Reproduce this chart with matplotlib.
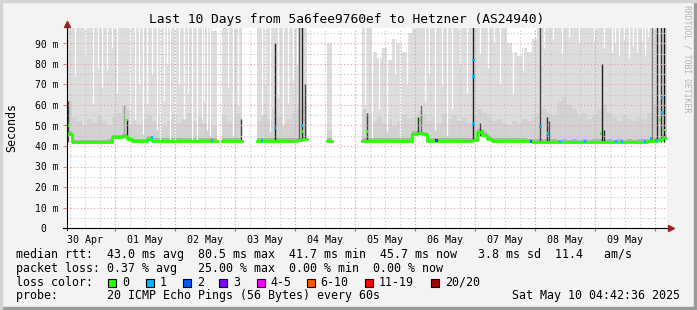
import numpy as np
import matplotlib
matplotlib.use("Agg")
import matplotlib.pyplot as plt
from matplotlib.lines import Line2D
from matplotlib.patches import Rectangle
from datetime import datetime

W, H = 697, 310
nan = np.nan
MONO = "DejaVu Sans Mono"

# ---- data (2 hour bins starting 30 Apr 04:42:36) ----
start = datetime(2025, 4, 30, 4, 42, 36)
bin_hours = 2

# upper edge of the light smoke (ms), nan = no data
top_ms = [
    98, 98, 98, 98, 98, 98, 98, 98, 98, 98, 98, 98,
    98, 98, 98, 98, 98, 98, 98, 98, 98, 98, 98, 98,
    98, 98, 98, 98, 98, 96, nan, 98, 98, 98, 98, nan,
    nan, nan, 98, 98, 98, 98, 98, 98, 98, 98, 98, 98,
    nan, nan, nan, nan, 90, nan, nan, nan, nan, nan, nan, 98,
    98, 86, 83, 88, 82, 92, 90, 86, 95, 98, 98, 98,
    98, 98, 98, 98, 98, 98, 98, 98, 98, 98, 98, 98,
    98, 98, 98, 98, 90, 86, 84, 88, 86, 92, 98, 98,
    98, 98, 98, 98, 98, 98, 98, 98, 98, 98, 98, 98,
    98, 98, 98, 98, 98, 98, 98, 98, 98, 98, 98, 98,
]

# upper edge of the darker inner smoke (ms)
mid_ms = [
    62, 54, 52, 50, 53, 51, 55, 52, 50, 54, 56, 60,
    58, 52, 50, 53, 55, 52, 54, 50, 52, 55, 51, 53,
    56, 52, 54, 51, 53, 50, nan, 55, 52, 54, 56, nan,
    nan, nan, 52, 55, 53, 58, 54, 51, 53, 56, 58, 62,
    nan, nan, nan, nan, 48, nan, nan, nan, nan, nan, nan, 58,
    56, 52, 54, 51, 53, 50, 52, 55, 53, 54, 57, 55,
    52, 54, 51, 56, 53, 55, 52, 54, 51, 55, 58, 56,
    54, 52, 53, 51, 50, 52, 51, 53, 52, 54, 56, 58,
    56, 55, 62, 64, 60, 58, 54, 56, 53, 55, 58, 60,
    56, 54, 52, 55, 53, 52, 54, 53, 56, 60, 62, 65,
]

median_ms = [
    46.0, 41.8, 41.8, 41.8, 41.8, 41.8, 41.8, 41.8, 42.0, 44.2, 44.2, 44.8,
    43.2, 42.3, 42.3, 42.3, 43.6, 42.5, 42.5, 42.5, 42.5, 42.6, 42.5, 42.5,
    42.5, 42.5, 42.6, 42.5, 42.5, 42.6, nan, 42.6, 42.5, 42.5, 42.6, nan,
    nan, nan, 42.6, 42.5, 42.5, 42.6, 42.5, 42.5, 42.6, 42.5, 42.8, 43.2,
    nan, nan, nan, nan, 42.5, nan, nan, nan, nan, nan, nan, 42.6,
    42.6, 42.5, 42.5, 42.6, 42.5, 42.5, 42.6, 42.5, 42.6, 46.0, 46.3, 45.8,
    42.6, 42.5, 42.6, 42.5, 42.6, 42.5, 42.6, 42.6, 42.5, 42.8, 47.0, 45.5,
    43.6, 42.6, 42.6, 42.5, 42.6, 42.5, 42.6, 42.5, 42.4, 42.1, 42.1, 42.0,
    42.0, 42.1, 41.9, 42.0, 41.9, 42.0, 41.9, 42.0, 41.9, 42.0, 42.0, 41.9,
    42.0, 41.9, 42.0, 41.9, 42.0, 41.9, 42.0, 42.1, 42.2, 42.6, 42.8, 44.0,
]

# thin white gaps in the smoke: hour, lowest value (ms)
gap_hours = [3.3, 7.3, 10.7, 12.5, 14.0, 16.0, 18.3, 20.0,
             25.3, 27.3, 29.0, 30.6, 32.3, 34.0, 36.0, 37.3, 38.9, 40.0, 41.3,
             43.3, 45.0, 46.9, 48.5, 50.0, 52.0, 54.0, 55.0, 56.0, 57.4,
             64.7, 66.6, 68.6,
             78.0, 79.3, 81.3, 84.7, 86.6, 88.6, 90.6, 92.0,
             119.5, 122.0, 125.0, 128.0, 131.5, 133.5, 136.0,
             143.5, 145.0, 147.5, 150.0, 152.0, 154.0, 157.5, 160.0,
             165.5, 168.5, 171.0, 173.5, 178.5, 182.5,
             190.8, 194.5, 198.0, 201.0, 205.0, 211.0, 215.0,
             218.0, 219.5, 221.0, 223.0, 225.0, 226.5, 228.0, 230.0, 231.5, 232.5]
gap_floor = [74, 84, 61, 78, 69, 77, 88, 66,
             50, 53, 70, 46, 61, 75, 48, 43, 62, 80, 43,
             43, 70, 53, 66, 43, 43, 53, 62, 48, 45,
             69, 45, 60,
             55, 70, 47, 64, 50, 61, 72, 80,
             60, 44, 58, 47, 75, 44, 70,
             62, 75, 48, 70, 45, 58, 80, 66,
             85, 78, 90, 70, 66, 77,
             88, 92, 85, 93, 90, 91, 88,
             86, 90, 84, 92, 83, 89, 86, 91, 84, 93]

# dark smoke spikes: hour, low, high, grey
spike_hours = [0.4, 23.0, 24.0, 69.8, 83.2, 93.0, 94.3, 95.5, 120.2, 140.5, 141.7,
               162.7, 165.5, 189.5, 192.0, 193.0, 214.0, 214.8, 234.0, 236.3, 237.8, 239.0]
spike_low = [42, 44, 44, 43, 43, 43, 43, 44, 43, 46, 46,
             43, 45, 42, 42, 42, 42, 42, 42, 42, 42, 42]
spike_high = [62, 60, 53, 53, 90.4, 98, 98, 70, 56, 54, 60,
              98, 51, 98, 54, 52, 80, 48, 98, 98, 98, 98]
spike_grey = ["#505050", "#a0a0a0", "#202020", "#404040", "#202020", "#606060", "#202020",
              "#404040", "#404040", "#303030", "#707070", "#202020", "#404040", "#404040",
              "#303030", "#505050", "#202020", "#303030", "#808080", "#202020", "#303030", "#101010"]

# loss coloured points on the median
loss_hours = [0.5, 0.6, 24.1, 34.1, 58.1, 78.1, 83.3, 94.1, 94.1, 120.1, 141.3, 148.0,
              162.7, 162.7, 162.7, 166.5, 185.7, 189.5, 192.5, 197.3, 207.3, 213.7,
              219.7, 222.1, 231.3, 233.7, 235.7, 238.1, 238.3, 237.3, 238.9]
loss_ms = [50, 46, 52.7, 44.0, 42.6, 42.6, 48.8, 50.0, 47.0, 47.0, 52.7, 42.6,
           82.0, 73.8, 51.0, 47.0, 42.1, 49.4, 46.0, 42.1, 42.1, 46.0,
           42.1, 42.1, 42.3, 43.5, 42.8, 63.4, 56.5, 52.7, 47.8]
loss_color = ["#26ff00", "#26ff00", "#26ff00", "#00b8ff", "#00b8ff", "#00b8ff", "#00b8ff",
              "#00b8ff", "#26ff00", "#26ff00", "#26ff00", "#7e00ff",
              "#00b8ff", "#00b8ff", "#00b8ff", "#26ff00", "#0059ff", "#00b8ff", "#00b8ff",
              "#00b8ff", "#00b8ff", "#26ff00", "#00b8ff", "#00b8ff", "#00b8ff", "#00b8ff",
              "#00b8ff", "#00b8ff", "#00b8ff", "#26ff00", "#26ff00"]

day_labels = ["30 Apr", "01 May", "02 May", "03 May", "04 May",
              "05 May", "06 May", "07 May", "08 May", "09 May"]

legend_names = ["0", "1", "2", "3", "4-5", "6-10", "11-19", "20/20"]
legend_colors = ["#26ff00", "#00b8ff", "#0059ff", "#7e00ff", "#ff00ff",
                 "#ff5500", "#ff0000", "#a10000"]
legend_box_x = [108.3, 145.7, 182.7, 219.3, 256.7, 306.7, 365.0, 430.7]

# ---- figure ----
fig = plt.figure(figsize=(W / 100, H / 100), dpi=100, facecolor="#f3f3f3")


def fx(x):
    return x / W


def fy(y):
    return 1 - y / H


ax = fig.add_axes([fx(66.7), fy(228), 600 / W, 200 / H])
ax.set_facecolor("white")
ax.set_xlim(0, 240)
ax.set_ylim(0, 200 / 2.05)
for s in ax.spines.values():
    s.set_visible(False)

hours = np.arange(len(top_ms)) * bin_hours
top = np.array(top_ms)
mid = np.array(mid_ms)
med = np.array(median_ms)
ok = ~np.isnan(top)

ax.bar(hours[ok], top[ok] - med[ok], bottom=med[ok], width=bin_hours, align="edge",
       color="#dddddd", linewidth=0, zorder=1)
ax.bar(hours[ok], mid[ok] - med[ok], bottom=med[ok], width=bin_hours, align="edge",
       color="#d2d2d2", linewidth=0, zorder=1.1)
ax.bar(hours[ok], 1.2, bottom=med[ok], width=bin_hours, align="edge",
       color="#b0b0b0", linewidth=0, zorder=1.15)

# white gaps in the smoke
ax.vlines(gap_hours, gap_floor, 98, color="white", linewidth=0.9, zorder=1.2)

# dark spikes
ax.vlines(spike_hours, spike_low, spike_high, colors=spike_grey, linewidth=1.0, zorder=1.3)

# grid
first_midnight = (datetime(2025, 5, 1) - start).total_seconds() / 3600
midnights = first_midnight + 24 * np.arange(10)
six_hours = (first_midnight - 18) + 6 * np.arange(40)
six_hours = six_hours[(six_hours > 0) & (six_hours < 240)]
noons = first_midnight - 12 + 24 * np.arange(10)

for h in six_hours:
    ax.axvline(h, color="#c4c4c4", linewidth=0.8, linestyle=(0, (1, 2)), zorder=2)
for v in range(5, 100, 10):
    ax.axhline(v, color="#c4c4c4", linewidth=0.8, linestyle=(0, (1, 2)), zorder=2)
for h in midnights:
    ax.axvline(h, color="#f0a0a0", linewidth=0.8, linestyle=(0, (1, 2)), zorder=2.1)
for v in range(10, 100, 10):
    ax.axhline(v, color="#f0a0a0", linewidth=0.8, linestyle=(0, (1, 2)), zorder=2.1)

# median line
edges = np.append(hours, 240)
ax.step(edges, np.append(med, med[-1]), where="post", color="#26ff00", linewidth=2.0, zorder=3)
ax.scatter(loss_hours, loss_ms, c=loss_color, marker="s", s=4, linewidths=0, zorder=3.5)

# ticks
ax.set_yticks(range(0, 100, 10))
ax.set_yticklabels(["0  "] + ["%d m" % v for v in range(10, 100, 10)], fontfamily=MONO, fontsize=7)
ax.tick_params(axis="y", length=3, width=0.8, color="#e08080", pad=3)
ax.set_xticks(noons)
ax.set_xticklabels(day_labels, fontfamily=MONO, fontsize=7.2)
ax.tick_params(axis="x", length=0, pad=5)
ax.vlines(midnights, -1.3, 0, color="#e05050", linewidth=0.8, clip_on=False)

# axis lines and arrows
fig.add_artist(Line2D([fx(66.7), fx(66.7)], [fy(230), fy(25)], color="black", linewidth=0.8))
fig.add_artist(Line2D([fx(63), fx(670)], [fy(228), fy(228)], color="black", linewidth=0.8))
fig.add_artist(Line2D([fx(66.7)], [fy(24)], marker="^", markersize=4, color="#a02020"))
fig.add_artist(Line2D([fx(671)], [fy(228)], marker=">", markersize=4, color="#a02020"))

# texts
fig.text(fx(347), fy(19), "Last 10 Days from 5a6fee9760ef to Hetzner (AS24940)",
         family=MONO, fontsize=9.3, ha="center", va="center")
fig.text(fx(12), fy(127), "Seconds", family=MONO, fontsize=8.4, rotation=90,
         ha="center", va="center")
fig.text(fx(686.5), fy(5), "RRDTOOL / TOBI OETIKER", family=MONO, fontsize=5.9,
         rotation=270, ha="center", va="top", color="#b4b4b4")

rows = [
    "median rtt:  43.0 ms avg  80.5 ms max  41.7 ms min  45.7 ms now   3.8 ms sd  11.4   am/s",
    "packet loss: 0.37 % avg   25.00 % max  0.00 % min  0.00 % now",
    "loss color:",
    "probe:       20 ICMP Echo Pings (56 Bytes) every 60s",
]
row_y = [254.3, 268.3, 282.3, 296.0]
for text, y in zip(rows, row_y):
    fig.text(fx(16), fy(y), text, family=MONO, fontsize=8.4, va="center")
fig.text(fx(680), fy(296.0), "Sat May 10 04:42:36 2025", family=MONO, fontsize=8.4,
         va="center", ha="right")

for name, col, bx in zip(legend_names, legend_colors, legend_box_x):
    fig.patches.append(Rectangle((fx(bx), fy(286.5)), 8 / W, 8 / H, transform=fig.transFigure,
                                 facecolor=col, edgecolor="black", linewidth=0.8))
    fig.text(fx(bx + 14), fy(282.3), name, family=MONO, fontsize=8.4, va="center")

# frame
fig.patches.append(Rectangle((0, 0), 1, 3 / H, transform=fig.transFigure, color="#999999"))
fig.patches.append(Rectangle((fx(694), 0), 3 / W, 1, transform=fig.transFigure, color="#999999"))
fig.patches.append(Rectangle((0, fy(2)), 1, 2 / H, transform=fig.transFigure, color="#d4d4d4"))
fig.patches.append(Rectangle((0, 0), 2 / W, 1, transform=fig.transFigure, color="#d4d4d4"))

fig.savefig("out.png", dpi=100, facecolor=fig.get_facecolor())
